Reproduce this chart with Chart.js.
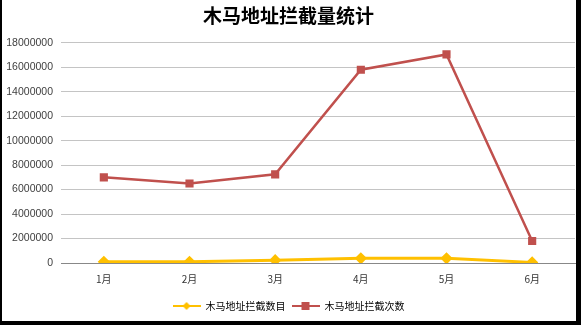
<!DOCTYPE html>
<html>
<head>
<meta charset="utf-8">
<script src="https://cdn.jsdelivr.net/npm/chart.js@4.4.1/dist/chart.umd.min.js"></script>
<style>
  html, body { margin: 0; padding: 0; background: #fff; }
  #wrap {
    width: 581px; height: 325px; box-sizing: border-box;
    border-left: 2px solid #000; border-right: 5px solid #000; border-bottom: 4px solid #000;
    position: relative;
  }
</style>
</head>
<body>
<div id="wrap"><canvas id="chart"></canvas></div>
<script>
// Données du graphique
const months = ['1月', '2月', '3月', '4月', '5月', '6月'];
const countValues = [100000, 100000, 230000, 380000, 380000, 50000];      // 木马地址拦截数目
const timesValues = [7000000, 6500000, 7250000, 15800000, 17050000, 1800000]; // 木马地址拦截次数
const yTicks = [0, 2000000, 4000000, 6000000, 8000000, 10000000, 12000000, 14000000, 16000000, 18000000];

const cjk = '"Noto Sans CJK SC", "Microsoft YaHei", sans-serif';

// Petite icône de légende : ligne + marqueur
function legendIcon(color, shape) {
  const c = document.createElement('canvas');
  c.width = 28; c.height = 10;
  const g = c.getContext('2d');
  g.strokeStyle = color; g.lineWidth = 2;
  g.beginPath(); g.moveTo(0, 5); g.lineTo(28, 5); g.stroke();
  g.fillStyle = color;
  if (shape === 'diamond') {
    g.beginPath(); g.moveTo(14, 1); g.lineTo(18, 5); g.lineTo(14, 9); g.lineTo(10, 5); g.closePath(); g.fill();
  } else {
    g.fillRect(10, 1, 8, 8);
  }
  return c;
}

new Chart(document.getElementById('chart'), {
  type: 'line',
  data: {
    labels: months,
    datasets: [
      {
        label: '木马地址拦截数目',
        data: countValues,
        borderColor: '#FFC000',
        backgroundColor: '#FFC000',
        borderWidth: 3,
        pointStyle: 'rectRot',
        pointRadius: 4,
        pointHoverRadius: 4,
        tension: 0,
        icon: legendIcon('#FFC000', 'diamond'),
      },
      {
        label: '木马地址拦截次数',
        data: timesValues,
        borderColor: '#C0504D',
        backgroundColor: '#C0504D',
        borderWidth: 2.5,
        pointStyle: 'rect',
        pointRadius: 4,
        pointHoverRadius: 4,
        tension: 0,
        icon: legendIcon('#C0504D', 'square'),
      },
    ],
  },
  options: {
    responsive: true,
    maintainAspectRatio: false,
    animation: false,
    layout: { autoPadding: false, padding: { left: 0, right: 1, top: 4, bottom: 0 } },
    scales: {
      x: {
        offset: true,
        // pas de marge supplémentaire sur les côtés
        afterFit: (s) => { s.paddingLeft = 0; s.paddingRight = 0; },
        grid: { display: false, drawTicks: false },
        border: { display: true, color: '#888', width: 1 },
        ticks: { color: '#333', font: { family: cjk, size: 10 }, padding: 10 },
      },
      y: {
        min: 0,
        max: 18000000,
        afterBuildTicks: (axis) => { axis.ticks = yTicks.map(v => ({ value: v })); },
        afterFit: (s) => { s.width = 59; },
        grid: {
          color: (ctx) => (ctx.tick && ctx.tick.value === 0 ? '#888' : '#c4c4c4'),
          lineWidth: 1,
          drawTicks: false,
        },
        border: { display: false },
        ticks: {
          color: '#404040',
          font: { family: 'Arial, "Liberation Sans", sans-serif', size: 10.5 },
          padding: 8,
          callback: (v) => String(v),
        },
      },
    },
    plugins: {
      title: {
        display: true,
        text: '木马地址拦截量统计',
        color: '#000',
        font: { family: cjk, size: 19, weight: 'bold' },
        padding: { top: 0, bottom: 16 },
      },
      legend: {
        position: 'bottom',
        labels: {
          usePointStyle: true,
          pointStyleWidth: 28,
          boxHeight: 10,
          color: '#000',
          font: { family: cjk, size: 10 },
          padding: 6,
          generateLabels: (chart) => chart.data.datasets.map((ds, i) => ({
            text: ds.label,
            pointStyle: ds.icon,
            fontColor: '#000',
            datasetIndex: i,
            hidden: false,
            lineWidth: 0,
          })),
        },
      },
      tooltip: { enabled: false },
    },
  },
});
</script>
</body>
</html>
